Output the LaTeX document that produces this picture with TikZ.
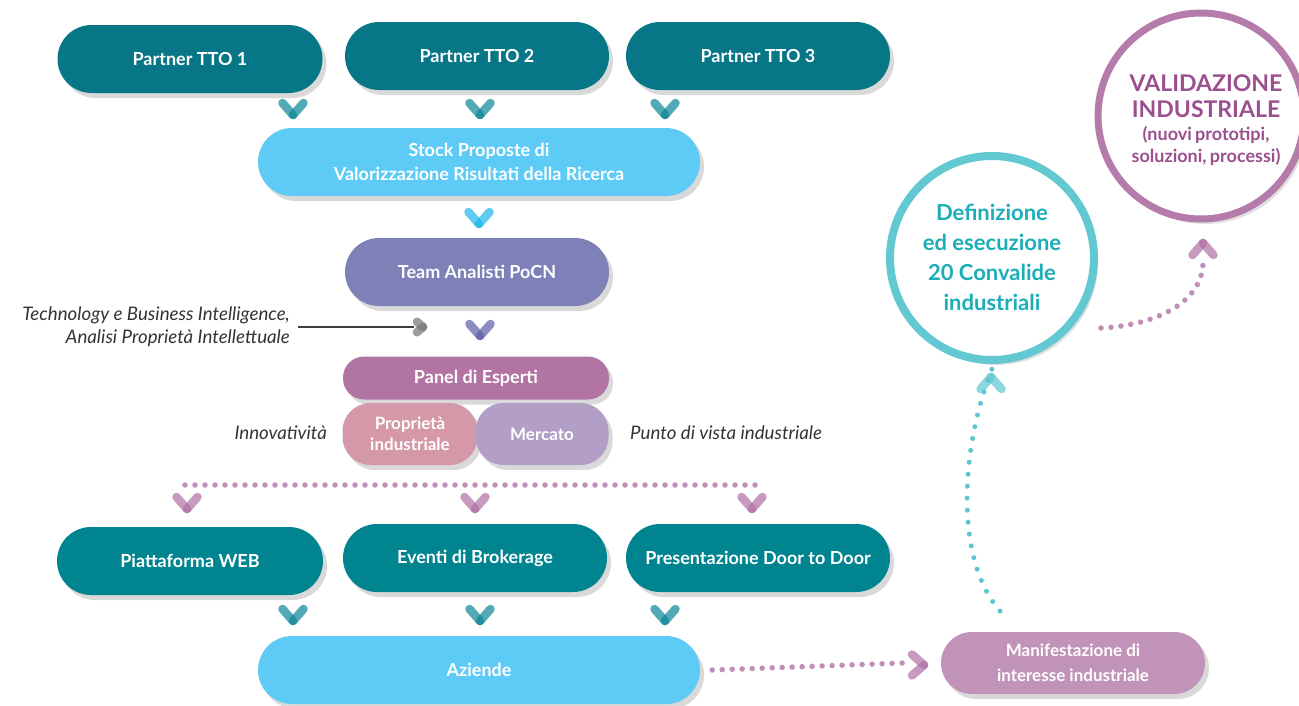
\documentclass[tikz,border=0pt]{standalone}
\usepackage{fontspec}
\setmainfont{Lato}
\usetikzlibrary{shadows}
\definecolor{tealA}{HTML}{077686}
\definecolor{tealB}{HTML}{008490}
\definecolor{lblue}{HTML}{5DCBF5}
\definecolor{teamc}{HTML}{7E80B8}
\definecolor{panelc}{HTML}{B274A2}
\definecolor{propc}{HTML}{D598A8}
\definecolor{mercc}{HTML}{B39FC6}
\definecolor{manc}{HTML}{C193B8}
\definecolor{circT}{HTML}{62C8D2}
\definecolor{circTtext}{HTML}{1BADB8}
\definecolor{circP}{HTML}{B57BAA}
\definecolor{circPtext}{HTML}{9B4F8E}
\definecolor{dotP}{HTML}{C08FB8}
\definecolor{dotT}{HTML}{5CC6D2}
\definecolor{chevT}{HTML}{0A8595}
\definecolor{chevB}{HTML}{1DB6EA}
\definecolor{chevV}{HTML}{5A5EA6}
\definecolor{chevP}{HTML}{B06FA4}
\definecolor{italc}{HTML}{333333}
\begin{document}
\begin{tikzpicture}[x=1pt,y=-1pt,
  box/.style 2 args={fill=#1, rounded corners=#2, text=white, align=center,
    inner sep=0pt, font=\bfseries\fontsize{18}{24}\selectfont,
    drop shadow={shadow xshift=4pt, shadow yshift=-5pt, opacity=0.15, fill=black}},
  chev/.pic={
    \path[pic actions, line width=8.5pt, line cap=round, draw opacity=0.7] (-10.5,-6) -- (0,6);
    \path[pic actions, line width=8.5pt, line cap=round, draw opacity=0.7] (10.5,-6) -- (0,6);},
  pdots/.style={draw=dotP, line width=5.5pt, line cap=round, dash pattern=on 0pt off 10pt},
  tdots/.style={draw=dotT, line width=5pt, line cap=round, dash pattern=on 0pt off 12pt},
  ital/.style={font=\itshape\fontsize{18.7}{23}\selectfont, text=italc, inner sep=0pt}
]
\useasboundingbox (0,0) rectangle (1299,705);

% top row
\node[box={tealA}{34pt}, minimum width=265, minimum height=68] (tto1) at (190,59) {Partner TTO 1};
\node[box={tealA}{34pt}, minimum width=264, minimum height=68] (tto2) at (477,56) {Partner TTO 2};
\node[box={tealA}{34pt}, minimum width=264, minimum height=68] (tto3) at (758,56) {Partner TTO 3};
\pic[draw=chevT] at (293,109) {chev};
\pic[draw=chevT] at (480,109) {chev};
\pic[draw=chevT] at (665,109) {chev};

\node[box={lblue}{34pt}, minimum width=442, minimum height=68] (stock) at (479,162)
  {Stock Proposte di\\Valorizzazione Risultati della Ricerca};
\pic[draw=chevB] at (479,218) {chev};

\node[box={teamc}{34pt}, minimum width=264, minimum height=68] (team) at (477,272) {Team Analisti PoCN};
\pic[draw=chevV] at (480,330) {chev};

% side label
\node[ital, anchor=east, align=right] (tech) at (290,327)
  {Technology e Business Intelligence,\\Analisi Proprietà Intellettuale};
\coordinate (gch) at (414,327);
\draw[line width=1.1pt, draw=black!75] ([xshift=8pt]tech.east) -- (gch);
\pic[draw=black!55, rotate=90, scale=0.5] at (420,327) {chev};

% panel
\node[box={panelc}{21pt}, minimum width=266, minimum height=43] (panel) at (476,378) {Panel di Esperti};
\node[box={propc}{28pt}, minimum width=135, minimum height=62, font=\bfseries\fontsize{17}{21}\selectfont] (prop) at (410,434) {Proprietà\\industriale};
\node[box={mercc}{28pt}, minimum width=133, minimum height=62, font=\bfseries\fontsize{17}{21}\selectfont] (merc) at (542,434) {Mercato};
\node[ital, anchor=east] (innov) at (327,433) {Innovatività};
\node[ital, anchor=west] (punto) at (630,433) {Punto di vista industriale};

% dotted distribution
\coordinate (dl) at (185,485);
\coordinate (dr) at (758,485);
\draw[pdots] (dl) -- (dr);
\pic[draw=chevP] at (187,503) {chev};
\pic[draw=chevP] at (475,503) {chev};
\pic[draw=chevP] at (752,503) {chev};

% bottom row
\node[box={tealB}{34pt}, minimum width=266, minimum height=68] (web) at (190,561) {Piattaforma WEB};
\node[box={tealB}{34pt}, minimum width=264, minimum height=68] (brok) at (475,558) {Eventi di Brokerage};
\node[box={tealB}{34pt}, minimum width=264, minimum height=68] (door) at (758,558) {Presentazione Door to Door};
\pic[draw=chevT] at (293,615) {chev};
\pic[draw=chevT] at (480,615) {chev};
\pic[draw=chevT] at (665,615) {chev};

\node[box={lblue}{34pt}, minimum width=442, minimum height=68] (az) at (479,670) {Aziende};

\node[box={manc}{31pt}, minimum width=264, minimum height=62, font=\bfseries\fontsize{17}{25}\selectfont] (man) at (1073,663)
  {Manifestazione di\\interesse industriale};

\draw[pdots] ([xshift=12pt]az.east) -- ([xshift=-38pt]man.west);
\pic[draw=chevP, rotate=90] at (918,665) {chev};

% circles
\node[circle, draw=circT, line width=8pt, fill=white, minimum size=204, inner sep=0pt,
  drop shadow={shadow xshift=4pt, shadow yshift=-5pt, opacity=0.12, fill=black}] (def) at (992,258) {};
\node[text=circTtext, align=center, font=\bfseries\fontsize{22}{30}\selectfont, inner sep=0pt] (deftxt) at (992,257)
  {Definizione\\ed esecuzione\\20 Convalide\\industriali};
\node[circle, draw=circP, line width=7pt, fill=white, minimum size=206, inner sep=0pt,
  drop shadow={shadow xshift=4pt, shadow yshift=-5pt, opacity=0.12, fill=black}] (val) at (1201,116) {};
\node[text=circPtext, text width=200pt, align=center, inner sep=0pt, font=\bfseries] (valtxt) at (1206,120)
  {{\fontsize{23}{26.5}\selectfont VALIDAZIONE\\INDUSTRIALE\par}\vspace{0pt}
   {\fontsize{18}{22.5}\selectfont (nuovi prototipi,\\soluzioni, processi)\par}};

\coordinate (tstart) at (1000,611);
\draw[tdots] (tstart) .. controls (955,560) and (960,450) .. ([yshift=-5pt]def.south);
\pic[draw=dotT, rotate=180] at (991,383) {chev};

\coordinate (pstart) at (1101,328);
\draw[pdots] (pstart) .. controls (1160,325) and (1203,300) .. (1203,262);
\pic[draw=chevP, rotate=180] at (1203,249) {chev};
\end{tikzpicture}
\end{document}
